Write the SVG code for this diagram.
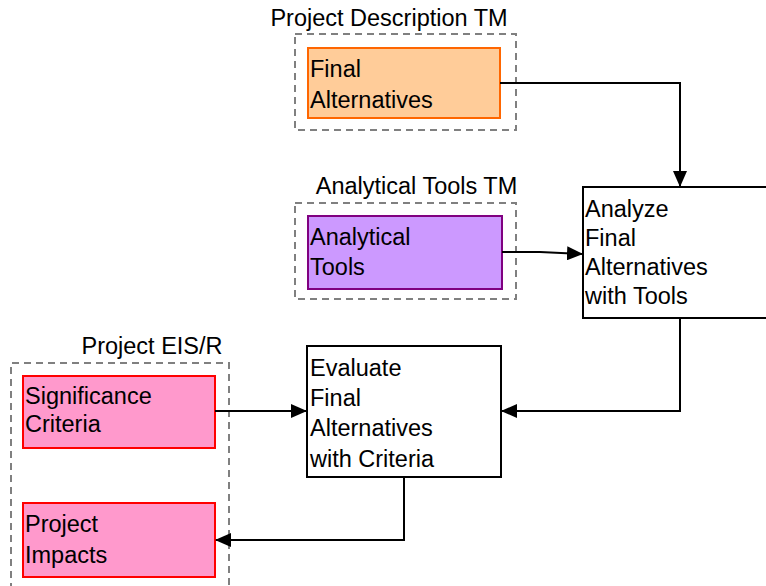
<svg xmlns="http://www.w3.org/2000/svg" width="766" height="586" viewBox="0 0 766 586">
<defs>
<style>
text{font-family:"Liberation Sans",Arial,sans-serif;font-size:23.5px;fill:#000}
.grp{fill:none;stroke:#808080;stroke-width:2;stroke-dasharray:7,5}
.proc{fill:#fff;stroke:#000;stroke-width:2}
.conn{fill:none;stroke:#000;stroke-width:2}
</style>
<marker id="ah" markerWidth="16" markerHeight="14" refX="15" refY="7" orient="auto" markerUnits="userSpaceOnUse">
<path d="M0,0 L16,7 L0,14 Z" fill="#000"/>
</marker>
</defs>
<rect width="766" height="586" fill="#fff"/>
<g id="grp-desc">
<rect class="grp" x="295" y="34" width="221" height="96"/>
<text x="389" y="26" text-anchor="middle">Project Description TM</text>
</g>
<g id="grp-tools">
<rect class="grp" x="295" y="203" width="221" height="96"/>
<text x="416.5" y="194" text-anchor="middle">Analytical Tools TM</text>
</g>
<g id="grp-eis">
<path class="grp" d="M11,590 V363 H229 V590"/>
<text x="152" y="354" text-anchor="middle">Project EIS/R</text>
</g>
<g id="final-alternatives">
<rect x="308" y="48" width="192" height="70" fill="#ffcc99" stroke="#ff6600" stroke-width="2"/>
<text x="310" y="77">Final</text>
<text x="310" y="108">Alternatives</text>
</g>
<g id="analytical-tools">
<rect x="308" y="216" width="194" height="73" fill="#cc99ff" stroke="#800080" stroke-width="2"/>
<text x="310" y="245">Analytical</text>
<text x="310" y="275">Tools</text>
</g>
<g id="significance-criteria">
<rect x="23" y="376" width="192" height="72" fill="#ff99cc" stroke="#ff0000" stroke-width="2"/>
<text x="25" y="404">Significance</text>
<text x="25" y="432">Criteria</text>
</g>
<g id="project-impacts">
<rect x="23" y="503" width="192" height="74" fill="#ff99cc" stroke="#ff0000" stroke-width="2"/>
<text x="25" y="532">Project</text>
<text x="25" y="563">Impacts</text>
</g>
<g id="analyze">
<rect class="proc" x="583" y="187" width="194" height="131"/>
<text x="585" y="217">Analyze</text>
<text x="585" y="246">Final</text>
<text x="585" y="275">Alternatives</text>
<text x="585" y="304">with Tools</text>
</g>
<g id="evaluate">
<rect class="proc" x="307" y="346" width="194" height="131"/>
<text x="310" y="376">Evaluate</text>
<text x="310" y="406">Final</text>
<text x="310" y="436">Alternatives</text>
<text x="310" y="467">with Criteria</text>
</g>
<g id="connectors">
<path class="conn" d="M500,83 H680 V186" marker-end="url(#ah)"/>
<path class="conn" d="M502,252 H540 L582,254" marker-end="url(#ah)"/>
<path class="conn" d="M680,318 V411 H502" marker-end="url(#ah)"/>
<path class="conn" d="M215,411 H306" marker-end="url(#ah)"/>
<path class="conn" d="M404,477 V540 H216" marker-end="url(#ah)"/>
</g>
</svg>
